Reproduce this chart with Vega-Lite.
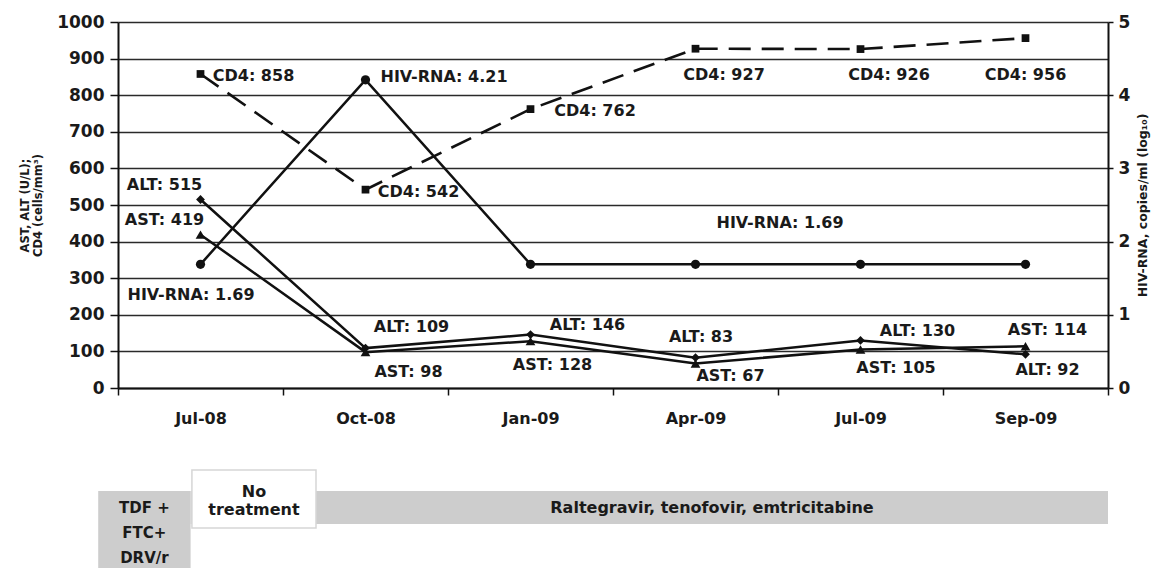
{
  "$schema": "https://vega.github.io/schema/vega-lite/v6.json",
  "width": 990,
  "height": 366,
  "autosize": {"type": "none"},
  "padding": {"left": 118, "top": 22, "right": 63, "bottom": 180},
  "background": "white",
  "config": {
    "view": {"stroke": null},
    "font": "DejaVu Sans",
    "text": {"font": "DejaVu Sans", "fontSize": 16, "fontWeight": "bold", "color": "#1a1a1a", "baseline": "middle", "align": "center"},
    "axis": {
      "labelFont": "DejaVu Sans", "labelFontSize": 16, "labelFontWeight": "bold", "labelColor": "#1a1a1a",
      "titleFont": "DejaVu Sans", "titleColor": "#1a1a1a", "titleFontWeight": "bold", "titleFontSize": 11,
      "domainColor": "#111111", "tickColor": "#111111", "domainWidth": 2, "tickWidth": 1.5
    }
  },
  "datasets": {
    "lab": [
      {"idx": 0, "date": "Jul-08", "series": "CD4", "value": 858, "label": "CD4: 858"},
      {"idx": 1, "date": "Oct-08", "series": "CD4", "value": 542, "label": "CD4: 542"},
      {"idx": 2, "date": "Jan-09", "series": "CD4", "value": 762, "label": "CD4: 762"},
      {"idx": 3, "date": "Apr-09", "series": "CD4", "value": 927, "label": "CD4: 927"},
      {"idx": 4, "date": "Jul-09", "series": "CD4", "value": 926, "label": "CD4: 926"},
      {"idx": 5, "date": "Sep-09", "series": "CD4", "value": 956, "label": "CD4: 956"},
      {"idx": 0, "date": "Jul-08", "series": "ALT", "value": 515, "label": "ALT: 515"},
      {"idx": 1, "date": "Oct-08", "series": "ALT", "value": 109, "label": "ALT: 109"},
      {"idx": 2, "date": "Jan-09", "series": "ALT", "value": 146, "label": "ALT: 146"},
      {"idx": 3, "date": "Apr-09", "series": "ALT", "value": 83, "label": "ALT: 83"},
      {"idx": 4, "date": "Jul-09", "series": "ALT", "value": 130, "label": "ALT: 130"},
      {"idx": 5, "date": "Sep-09", "series": "ALT", "value": 92, "label": "ALT: 92"},
      {"idx": 0, "date": "Jul-08", "series": "AST", "value": 419, "label": "AST: 419"},
      {"idx": 1, "date": "Oct-08", "series": "AST", "value": 98, "label": "AST: 98"},
      {"idx": 2, "date": "Jan-09", "series": "AST", "value": 128, "label": "AST: 128"},
      {"idx": 3, "date": "Apr-09", "series": "AST", "value": 67, "label": "AST: 67"},
      {"idx": 4, "date": "Jul-09", "series": "AST", "value": 105, "label": "AST: 105"},
      {"idx": 5, "date": "Sep-09", "series": "AST", "value": 114, "label": "AST: 114"},
      {"idx": 0, "date": "Jul-08", "series": "HIV-RNA", "value": 1.69, "label": "HIV-RNA: 1.69"},
      {"idx": 1, "date": "Oct-08", "series": "HIV-RNA", "value": 4.21, "label": "HIV-RNA: 4.21"},
      {"idx": 2, "date": "Jan-09", "series": "HIV-RNA", "value": 1.69, "label": ""},
      {"idx": 3, "date": "Apr-09", "series": "HIV-RNA", "value": 1.69, "label": "HIV-RNA: 1.69"},
      {"idx": 4, "date": "Jul-09", "series": "HIV-RNA", "value": 1.69, "label": ""},
      {"idx": 5, "date": "Sep-09", "series": "HIV-RNA", "value": 1.69, "label": ""}
    ],
    "treat": [
      {"phase": "prior", "start": -0.12, "end": 0.44, "low": -4, "high": 77, "mid": 0.16, "level": 60, "text": "TDF +\nFTC+\nDRV/r"},
      {"phase": "raltegravir", "start": 0.44, "end": 6.0, "low": 44, "high": 77, "mid": 3.6, "level": 60, "text": "Raltegravir, tenofovir, emtricitabine"},
      {"phase": "none", "start": 0.448, "end": 1.2, "low": 40, "high": 98, "mid": 0.824, "level": 76, "text": "No\ntreatment"}
    ]
  },
  "layer": [
    {
      "data": {"name": "treat"},
      "encoding": {
        "x": {"field": "start", "type": "quantitative", "scale": {"domain": [0, 6], "nice": false, "zero": false}, "axis": null},
        "y": {"field": "low", "type": "quantitative", "scale": {"domain": [0, 98], "range": [546, 448], "nice": false, "zero": false}, "axis": null}
      },
      "layer": [
        {
          "transform": [{"filter": "datum.phase !== 'none'"}],
          "mark": {"type": "rect", "fill": "#cdcdcd"},
          "encoding": {"x2": {"field": "end"}, "y2": {"field": "high"}}
        },
        {
          "transform": [{"filter": "datum.phase === 'none'"}],
          "mark": {"type": "rect", "fill": "white", "stroke": "#d6d6d6", "strokeWidth": 1.5},
          "encoding": {"x2": {"field": "end"}, "y2": {"field": "high"}}
        },
        {
          "transform": [{"filter": "datum.phase === 'prior'"}],
          "mark": {"type": "text", "lineBreak": "\n", "lineHeight": 25, "fontSize": 15},
          "encoding": {"x": {"field": "mid", "type": "quantitative"}, "y": {"field": "level", "type": "quantitative"}, "text": {"field": "text"}}
        },
        {
          "transform": [{"filter": "datum.phase === 'none'"}],
          "mark": {"type": "text", "lineBreak": "\n", "lineHeight": 18},
          "encoding": {"x": {"field": "mid", "type": "quantitative"}, "y": {"field": "level", "type": "quantitative"}, "text": {"field": "text"}}
        },
        {
          "transform": [{"filter": "datum.phase === 'raltegravir'"}],
          "mark": {"type": "text"},
          "encoding": {"x": {"field": "mid", "type": "quantitative"}, "y": {"field": "level", "type": "quantitative"}, "text": {"field": "text"}}
        }
      ]
    },
    {
      "data": {"name": "lab"},
      "transform": [{"filter": "datum.series !== 'HIV-RNA'"}],
      "encoding": {
        "x": {
          "field": "date", "type": "ordinal",
          "sort": ["Jul-08", "Oct-08", "Jan-09", "Apr-09", "Jul-09", "Sep-09"],
          "scale": {"type": "band", "domain": ["Jul-08", "Oct-08", "Jan-09", "Apr-09", "Jul-09", "Sep-09"], "paddingInner": 0, "paddingOuter": 0},
          "axis": {"title": null, "orient": "bottom", "labelAngle": 0, "tickBand": "extent", "tickSize": 7, "labelPadding": 15, "grid": false}
        },
        "y": {
          "field": "value", "type": "quantitative",
          "scale": {"domain": [0, 1000], "nice": false},
          "axis": {
            "orient": "left",
            "values": [0, 100, 200, 300, 400, 500, 600, 700, 800, 900, 1000],
            "format": "d",
            "labelFontSize": 17,
            "grid": true, "gridColor": "#2a2a2a", "gridWidth": 1.5, "gridOpacity": 1,
            "tickSize": 8, "labelPadding": 6,
            "title": ["AST, ALT (U/L);", "CD4 (cells/mm³)"],
            "titleLineHeight": 13, "titlePadding": 13, "titleFontSize": 11.5
          }
        },
        "order": {"field": "idx", "type": "quantitative"}
      },
      "layer": [
        {
          "transform": [{"filter": "datum.series === 'CD4'"}],
          "mark": {"type": "line", "color": "#111111", "strokeWidth": 2.6, "strokeDash": [22, 11]}
        },
        {
          "transform": [{"filter": "datum.series !== 'CD4'"}],
          "mark": {"type": "line", "color": "#111111", "strokeWidth": 2.5},
          "encoding": {"detail": {"field": "series", "type": "nominal"}}
        },
        {
          "mark": {"type": "point", "filled": true, "color": "#111111", "opacity": 1},
          "encoding": {
            "shape": {"field": "series", "type": "nominal", "scale": {"domain": ["CD4", "ALT", "AST"], "range": ["square", "diamond", "triangle-up"]}, "legend": null},
            "size": {"field": "series", "type": "nominal", "scale": {"domain": ["CD4", "ALT", "AST"], "range": [60, 95, 70]}, "legend": null}
          }
        },
        {"transform": [{"filter": "datum.series === 'CD4' && (datum.date === 'Jul-08' || datum.date === 'Oct-08')"}], "mark": {"type": "text", "dx": 53, "dy": 2}, "encoding": {"text": {"field": "label"}}},
        {"transform": [{"filter": "datum.series === 'CD4' && datum.date === 'Jan-09'"}], "mark": {"type": "text", "dx": 64.5, "dy": 2}, "encoding": {"text": {"field": "label"}}},
        {"transform": [{"filter": "datum.series === 'CD4' && (datum.date === 'Apr-09' || datum.date === 'Jul-09')"}], "mark": {"type": "text", "dx": 28.5, "dy": 26}, "encoding": {"text": {"field": "label"}}},
        {"transform": [{"filter": "datum.series === 'CD4' && datum.date === 'Sep-09'"}], "mark": {"type": "text", "dx": 0, "dy": 37}, "encoding": {"text": {"field": "label"}}},
        {"transform": [{"filter": "datum.series !== 'CD4' && datum.date === 'Jul-08'"}], "mark": {"type": "text", "dx": -36, "dy": -14.5}, "encoding": {"text": {"field": "label"}}},
        {"transform": [{"filter": "datum.series === 'ALT' && datum.date === 'Oct-08'"}], "mark": {"type": "text", "dx": 46, "dy": -21}, "encoding": {"text": {"field": "label"}}},
        {"transform": [{"filter": "datum.series === 'AST' && datum.date === 'Oct-08'"}], "mark": {"type": "text", "dx": 43, "dy": 20}, "encoding": {"text": {"field": "label"}}},
        {"transform": [{"filter": "datum.series === 'ALT' && (datum.date === 'Jan-09' || datum.date === 'Jul-09')"}], "mark": {"type": "text", "dx": 57, "dy": -9.5}, "encoding": {"text": {"field": "label"}}},
        {"transform": [{"filter": "datum.series === 'AST' && datum.date === 'Jan-09'"}], "mark": {"type": "text", "dx": 22, "dy": 24}, "encoding": {"text": {"field": "label"}}},
        {"transform": [{"filter": "datum.series === 'ALT' && datum.date === 'Apr-09'"}], "mark": {"type": "text", "dx": 5.5, "dy": -20.5}, "encoding": {"text": {"field": "label"}}},
        {"transform": [{"filter": "datum.series === 'AST' && datum.date === 'Apr-09'"}], "mark": {"type": "text", "dx": 35, "dy": 12.5}, "encoding": {"text": {"field": "label"}}},
        {"transform": [{"filter": "datum.series === 'AST' && datum.date === 'Jul-09'"}], "mark": {"type": "text", "dx": 35.5, "dy": 18.5}, "encoding": {"text": {"field": "label"}}},
        {"transform": [{"filter": "datum.series === 'AST' && datum.date === 'Sep-09'"}], "mark": {"type": "text", "dx": 22, "dy": -16}, "encoding": {"text": {"field": "label"}}},
        {"transform": [{"filter": "datum.series === 'ALT' && datum.date === 'Sep-09'"}], "mark": {"type": "text", "dx": 22, "dy": 16}, "encoding": {"text": {"field": "label"}}}
      ]
    },
    {
      "data": {"name": "lab"},
      "transform": [{"filter": "datum.series === 'HIV-RNA'"}],
      "encoding": {
        "x": {
          "field": "date", "type": "ordinal",
          "sort": ["Jul-08", "Oct-08", "Jan-09", "Apr-09", "Jul-09", "Sep-09"],
          "scale": {"type": "band", "domain": ["Jul-08", "Oct-08", "Jan-09", "Apr-09", "Jul-09", "Sep-09"], "paddingInner": 0, "paddingOuter": 0},
          "axis": null
        },
        "y": {
          "field": "value", "type": "quantitative",
          "scale": {"domain": [0, 5], "nice": false},
          "axis": {
            "orient": "right",
            "values": [0, 1, 2, 3, 4, 5],
            "labelFontSize": 17,
            "grid": false, "tickSize": 5, "labelPadding": 5,
            "title": "HIV-RNA, copies/ml (log₁₀)",
            "titleAngle": 270, "titlePadding": 20, "titleFontSize": 12.5
          }
        },
        "order": {"field": "idx", "type": "quantitative"}
      },
      "layer": [
        {"mark": {"type": "line", "color": "#111111", "strokeWidth": 2.5}},
        {"mark": {"type": "point", "shape": "circle", "filled": true, "color": "#111111", "opacity": 1, "size": 85}},
        {"transform": [{"filter": "datum.date === 'Jul-08'"}], "mark": {"type": "text", "dx": -9.5, "dy": 31}, "encoding": {"text": {"field": "label"}}},
        {"transform": [{"filter": "datum.date === 'Oct-08'"}], "mark": {"type": "text", "dx": 78.5, "dy": -3}, "encoding": {"text": {"field": "label"}}},
        {"transform": [{"filter": "datum.date === 'Apr-09'"}], "mark": {"type": "text", "dx": 84.5, "dy": -41}, "encoding": {"text": {"field": "label"}}}
      ]
    }
  ],
  "resolve": {"scale": {"x": "independent", "y": "independent"}}
}
